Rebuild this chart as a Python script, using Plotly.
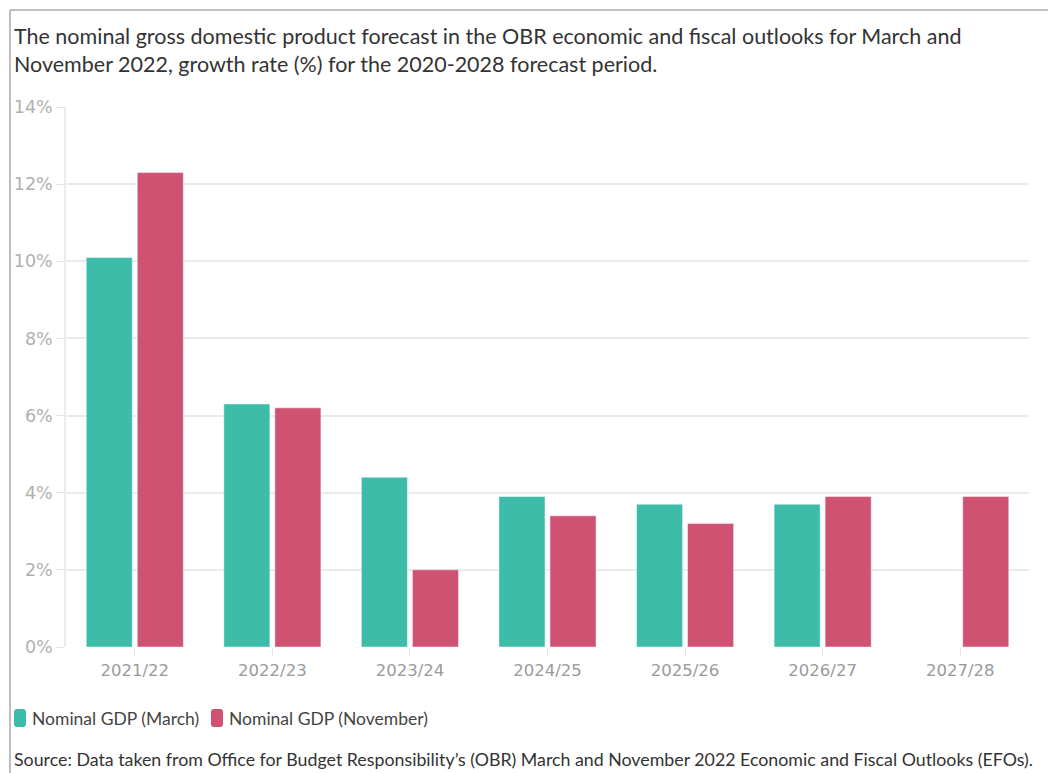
import plotly.graph_objects as go

categories = ["2021/22", "2022/23", "2023/24", "2024/25", "2025/26", "2026/27", "2027/28"]
march = [10.1, 6.3, 4.4, 3.9, 3.7, 3.7, None]
november = [12.3, 6.2, 2.0, 3.4, 3.2, 3.9, 3.9]
series_names = ["Nominal GDP (March)", "Nominal GDP (November)"]
series_colors = ["#3dbda9", "#cf5273"]
y_ticks = [0, 2, 4, 6, 8, 10, 12, 14]
y_tick_labels = [f"{v}%" for v in y_ticks]

FONT = "Lato"
TICKFONT = "DejaVu Sans"
W, H = 1048, 773
L, R, T, B = 66, 19, 107, 126
pw, ph = W - L - R, H - T - B

def px_x(x):
    return (x - L) / pw

def px_y(y):
    return (H - B - y) / ph

fig = go.Figure()
for vals, name, col in zip([march, november], series_names, series_colors):
    fig.add_trace(go.Bar(
        x=categories, y=vals, name=name, showlegend=False,
        marker=dict(color=col, line=dict(color="rgba(255,255,255,0.45)", width=1)),
    ))

# custom legend (rounded swatches + labels), placed in pixel space
def rounded_rect(x0, y0, x1, y1, r):
    X0, X1 = px_x(x0), px_x(x1)
    Y0, Y1 = px_y(y0), px_y(y1)  # Y0 top (larger), Y1 bottom
    rx, ry = r / pw, r / ph
    return (f"M {X0+rx},{Y0} L {X1-rx},{Y0} Q {X1},{Y0} {X1},{Y0-ry} "
            f"L {X1},{Y1+ry} Q {X1},{Y1} {X1-rx},{Y1} L {X0+rx},{Y1} "
            f"Q {X0},{Y1} {X0},{Y1+ry} L {X0},{Y0-ry} Q {X0},{Y0} {X0+rx},{Y0} Z")

legend_x = [14, 211]
shapes = [
    dict(type="line", xref="paper", yref="paper", x0=px_x(10), x1=px_x(W), y0=px_y(10), y1=px_y(10),
         line=dict(color="#aaaaaa", width=1.5)),
    dict(type="line", xref="paper", yref="paper", x0=px_x(10), x1=px_x(10), y0=px_y(10), y1=px_y(H),
         line=dict(color="#aaaaaa", width=1.5)),
]
annotations = [
    dict(
        text="The nominal gross domestic product forecast in the OBR economic and fiscal outlooks for March and<br>November 2022, growth rate (%) for the 2020-2028 forecast period.",
        xref="paper", yref="paper", x=px_x(12), y=px_y(21), xanchor="left", yanchor="top",
        align="left", showarrow=False, font=dict(size=21.5, color="#333", family=FONT),
    ),
    dict(
        text="Source: Data taken from Office for Budget Responsibility’s (OBR) March and November 2022 Economic and Fiscal Outlooks (EFOs).",
        xref="paper", yref="paper", x=px_x(12), y=px_y(759), xanchor="left", yanchor="middle",
        align="left", showarrow=False, font=dict(size=17.8, color="#333", family=FONT),
    ),
]
for lx, name, col in zip(legend_x, series_names, series_colors):
    shapes.append(dict(type="path", xref="paper", yref="paper",
                       path=rounded_rect(lx, 709, lx + 12, 727, 3),
                       fillcolor=col, line=dict(width=0)))
    annotations.append(dict(text=name, xref="paper", yref="paper", x=px_x(lx + 16), y=px_y(718),
                            xanchor="left", yanchor="middle", showarrow=False,
                            font=dict(size=17.5, color="#444", family=FONT)))

fig.update_layout(
    width=W, height=H,
    margin=dict(l=L, r=R, t=T, b=B, autoexpand=False),
    paper_bgcolor="white", plot_bgcolor="white",
    barmode="group", bargap=0.258, bargroupgap=0.098,
    font=dict(family=FONT, color="#333"),
    showlegend=False,
    xaxis=dict(
        type="category", showgrid=False, ticks="outside", ticklen=8, tickcolor="#e6e6e6",
        tickfont=dict(size=16.5, color="#9a9a9a", family=TICKFONT), showline=False, zeroline=False,
        fixedrange=True,
    ),
    yaxis=dict(
        range=[0, 14], tickvals=y_ticks, ticktext=y_tick_labels,
        showgrid=True, gridcolor="#ebebeb", gridwidth=1.5,
        ticks="outside", ticklen=8, tickcolor="#e6e6e6",
        tickfont=dict(size=17.5, color="#b0b0b0", family=TICKFONT),
        showline=True, linecolor="#ebebeb", linewidth=1.5, zeroline=False,
        fixedrange=True,
    ),
    annotations=annotations,
    shapes=shapes,
)

fig.write_html("out.html", config={"displayModeBar": False})
